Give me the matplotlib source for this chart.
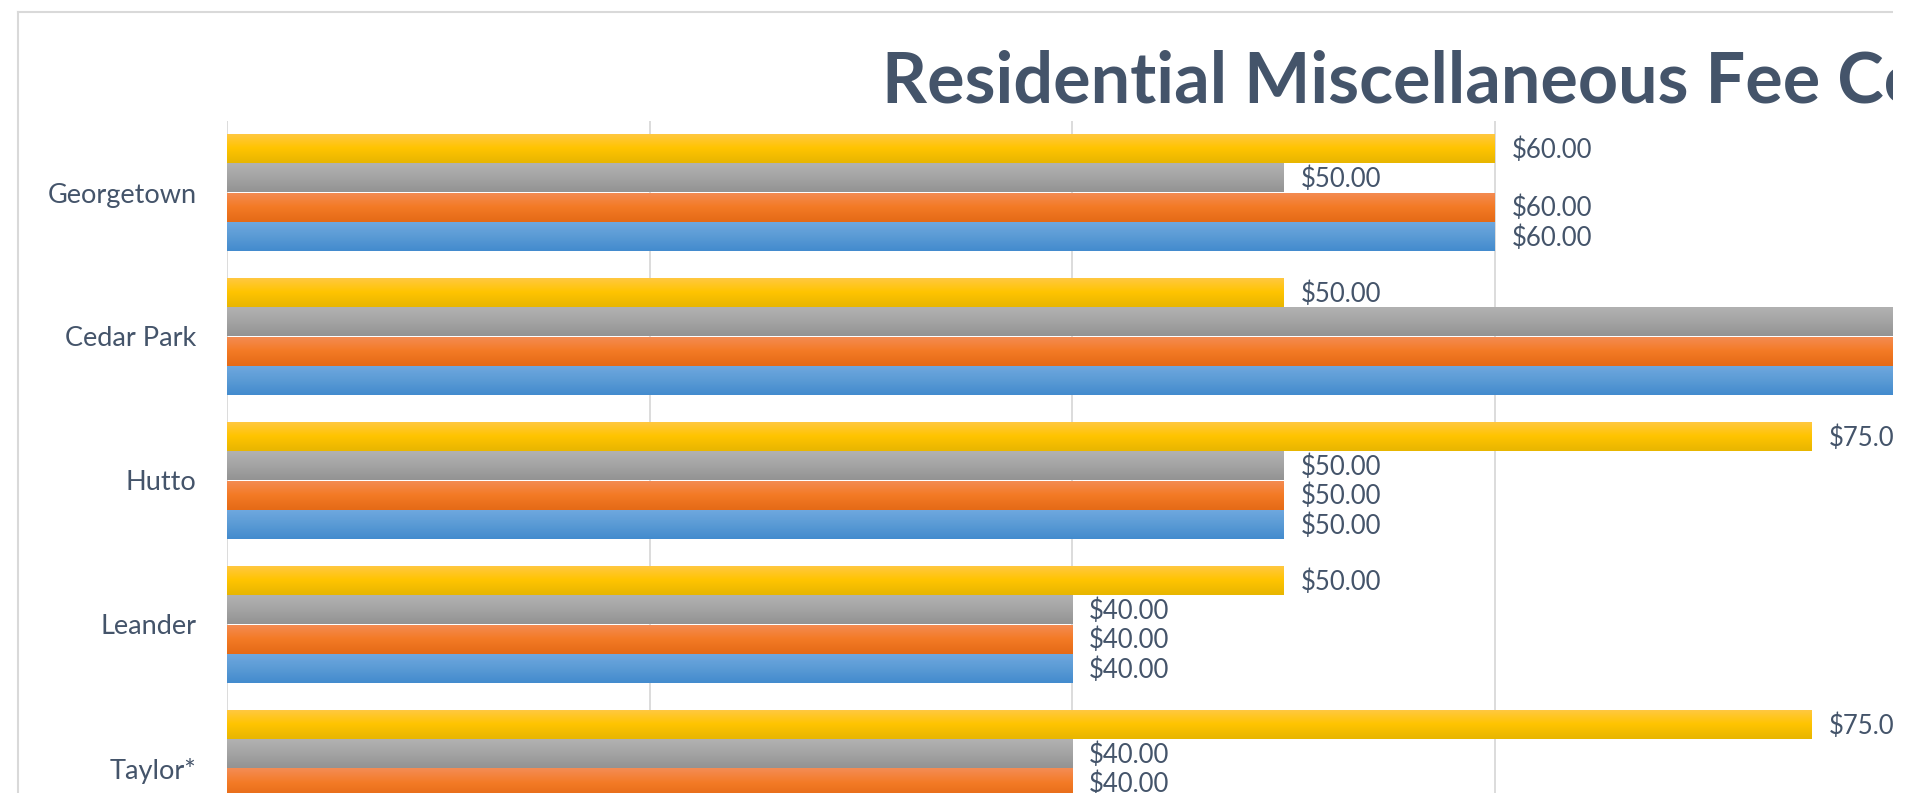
import numpy as np
import matplotlib
matplotlib.use("Agg")
import matplotlib.pyplot as plt
from matplotlib.colors import LinearSegmentedColormap
from matplotlib.patches import Rectangle
from matplotlib.lines import Line2D

# -----------------------------
# Data
# -----------------------------
cities = ["Georgetown", "Cedar Park", "Hutto", "Leander", "Taylor*"]
fee_1 = [60, 100, 50, 40, 40]   # blue (bottom bar of each group)
fee_2 = [60, 100, 50, 40, 40]   # orange
fee_3 = [50, 100, 50, 40, 40]   # gray
fee_4 = [60, 50, 75, 50, 75]    # yellow (top bar of each group)
title = "Residential Miscellaneous Fee Comparison"

series = [fee_1, fee_2, fee_3, fee_4]
gradients = [
    ["#6FA8DF", "#5B9BD5", "#438BCE"],
    ["#F48C54", "#F37A25", "#E56A16"],
    ["#B2B2B2", "#A4A4A4", "#939393"],
    ["#FFC844", "#FFC400", "#E8B600"],
]
text_color = "#44546A"

W, H = 1910, 793
fig = plt.figure(figsize=(W / 100, H / 100), dpi=100)
fig.patch.set_facecolor("white")

# axes geometry in pixels
x0_px, unit_px = 227, 21.13
xmax = 100
top_px, band_px = 120.5, 144
n = len(cities)
ax = fig.add_axes([x0_px / W, 1 - (top_px + n * band_px) / H,
                   xmax * unit_px / W, n * band_px / H])

bar_h = 0.203
y = np.arange(n)
offsets = [1.5, 0.5, -0.5, -1.5]

for vals, grad, off in zip(series, gradients, offsets):
    cmap = LinearSegmentedColormap.from_list("g", grad)
    img = cmap(np.linspace(0, 1, 40))[:, None, :]
    bars = ax.barh(y + off * bar_h, vals, height=bar_h, color="none",
                   edgecolor="none", zorder=2)
    for b, v in zip(bars, vals):
        bx, by = b.get_x(), b.get_y()
        bw, bh = b.get_width(), b.get_height()
        im = ax.imshow(img, extent=(bx, bx + bw, by + bh, by), aspect="auto",
                       interpolation="bilinear", zorder=2)
        im.set_clip_path(b)
        ax.text(v + 0.8, by + bh / 2 + 0.01, f"${v:.2f}", va="center",
                ha="left", fontsize=18.5, color=text_color, family="Lato",
                zorder=3)

ax.set_xlim(0, xmax)
ax.set_ylim(n - 0.5, -0.5)
ax.set_xticks(np.arange(0, xmax + 1, 20))
ax.xaxis.grid(True, color="#D9D9D9", lw=1.3, zorder=0)
ax.set_axisbelow(True)
ax.tick_params(axis="x", length=0, labelbottom=False)
ax.set_yticks(y)
ax.set_yticklabels(cities, fontsize=19.5, color=text_color, family="Lato")
ax.tick_params(axis="y", length=0, pad=22)
for s in ax.spines.values():
    s.set_visible(False)

fig.text(882 / W, 1 - 103 / H, title, ha="left", va="baseline",
         fontsize=50.5, fontweight="bold", color=text_color, family="Lato")

# chart border (top and left edges are visible)
bx_px, by_px, right_px = 18, 11.7, 1893
fig.add_artist(Line2D([bx_px / W, right_px / W], [1 - by_px / H] * 2,
                      color="#D9D9D9", lw=1.5, transform=fig.transFigure))
fig.add_artist(Line2D([bx_px / W] * 2, [1 - by_px / H, 0],
                      color="#D9D9D9", lw=1.5, transform=fig.transFigure))

# the picture is cut off on the right
fig.add_artist(Rectangle((right_px / W, 0), 1, 1, transform=fig.transFigure,
                         facecolor="white", edgecolor="none", zorder=10))

fig.savefig("out.png", dpi=100)
